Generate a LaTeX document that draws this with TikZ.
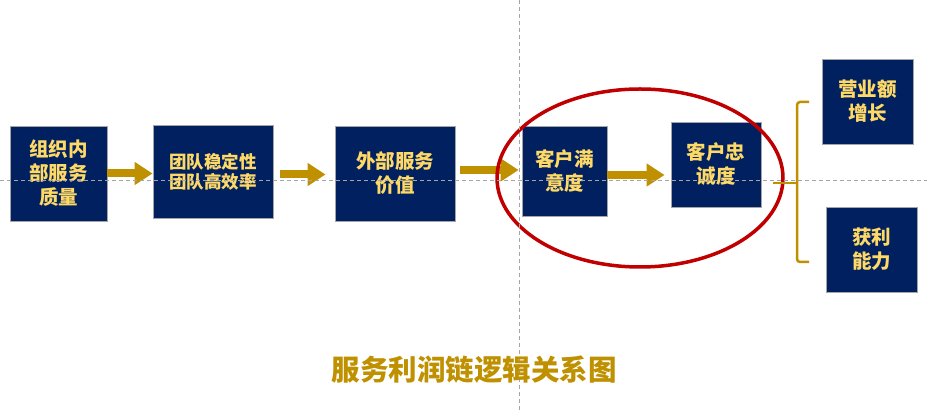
\documentclass[tikz,border=0pt]{standalone}
\usepackage{fontspec}
\newfontfamily\cjk{Noto Sans CJK SC}[BoldFont={Noto Sans CJK SC Black}]
\usetikzlibrary{arrows.meta,calc}
\definecolor{navy}{RGB}{0,32,96}
\definecolor{boxtext}{RGB}{255,217,102}
\definecolor{gold}{RGB}{191,144,0}
\definecolor{ringred}{RGB}{192,0,0}
\definecolor{guide}{RGB}{165,165,165}
\tikzset{
  box/.style={draw=guide, line width=0.8pt, fill=navy, text=boxtext, inner sep=0pt,
    align=center, font=\cjk\bfseries\fontsize{19.5}{24}\selectfont},
  bigarrow/.style={draw=gold, line width=8pt,
    -{Triangle[length=18pt,width=22pt]}},
  guideline/.style={draw=guide, line width=0.8pt, dash pattern=on 4pt off 3pt},
}
\begin{document}
\begin{tikzpicture}[x=1pt,y=-1pt]
\useasboundingbox (0,0) rectangle (927,411);
% boxes
\node[box, minimum width=97pt, minimum height=95pt] (b1) at (58.5,173.5) {组织内\\部服务\\质量};
\node[box, minimum width=120pt, minimum height=93pt, font=\cjk\bfseries\fontsize{17.5}{20}\selectfont] (b2) at (213,171.5) {团队稳定性\\团队高效率};
\node[box, minimum width=120pt, minimum height=95pt] (b3) at (395,173.5) {外部服务\\价值};
\node[box, minimum width=85pt, minimum height=90pt] (b4) at (564.5,171) {客户满\\意度};
\node[box, minimum width=90pt, minimum height=85pt] (b5) at (716,164.5) {客户忠\\诚度};
\node[box, minimum width=91pt, minimum height=85pt] (b6) at (867.5,101.5) {营业额\\增长};
\node[box, minimum width=91pt, minimum height=85pt] (b7) at (871.5,249.5) {获利\\能力};
% arrows
\draw[bigarrow] (b1.east) -- (b1.east -| b2.west);
\draw[bigarrow, shorten <=7pt, shorten >=9pt] ([yshift=-3pt]b2.east) -- ([yshift=-3pt]b2.east -| b3.west);
\draw[bigarrow, shorten <=5pt, shorten >=3pt] ([yshift=3.5pt]b3.east) -- ([yshift=3.5pt]b3.east -| b4.west);
\draw[bigarrow, shorten >=6pt] ([yshift=-4pt]b4.east) -- ([yshift=-4pt]b4.east -| b5.west);
% ring
\draw[ringred, line width=3.5pt] (640,178) ellipse [x radius=143, y radius=89];
% brace
\coordinate (bt) at (809,102);
\coordinate (bb) at (809,262);
\coordinate (bm) at (773,183);
\draw[gold, line width=2.5pt, rounded corners=3pt] (bt) -- (797,102) -- (797,262) -- (bb);
\draw[gold, line width=2.5pt] (bm) -- (797,183);
% guides
\draw[guideline] (0,180) -- (927,180);
\draw[guideline] (519,0) -- (519,411);
% title
\node[text=gold, font=\cjk\bfseries\fontsize{28.5}{32}\selectfont, inner sep=0pt] (title) at (474,370) {服务利润链逻辑关系图};
\end{tikzpicture}
\end{document}
